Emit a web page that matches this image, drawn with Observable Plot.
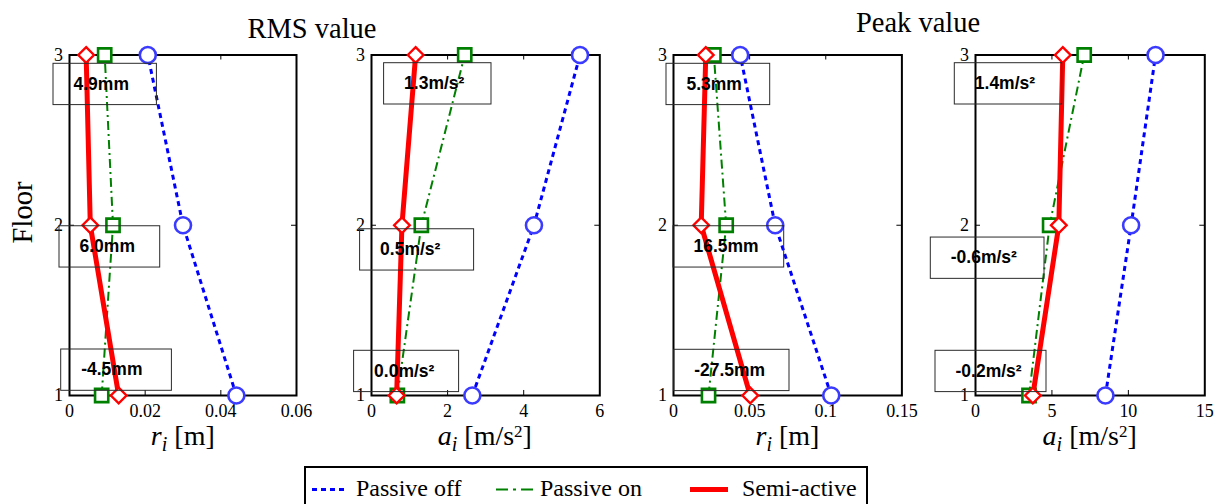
<!DOCTYPE html>
<html><head><meta charset="utf-8">
<script src="https://cdn.jsdelivr.net/npm/d3@7"></script>
<script src="https://cdn.jsdelivr.net/npm/@observablehq/plot@0.6"></script>
<style>
body{margin:0;background:#fff;}
#chart{position:relative;width:1215px;height:504px;overflow:hidden;background:#fff;}
.pwrap{position:absolute;top:0;}
.pwrap svg{max-width:none !important;}
#overlay{position:absolute;left:0;top:0;pointer-events:none;}
</style></head><body><div id="chart"></div>
<script>
// ---------------- data ----------------
const floors = [1, 2, 3];
const seriesNames = ["Passive off", "Passive on", "Semi-active"];

// RMS values (floors 1, 2, 3)
const rmsDispOff  = [0.0441, 0.0300, 0.0207];
const rmsDispOn   = [0.0085, 0.0115, 0.0093];
const rmsDispSemi = [0.0130, 0.0055, 0.0044];
const rmsAccOff   = [2.65, 4.27, 5.48];
const rmsAccOn    = [0.68, 1.31, 2.45];
const rmsAccSemi  = [0.66, 0.80, 1.16];
// Peak values (floors 1, 2, 3)
const peakDispOff  = [0.1036, 0.0668, 0.0438];
const peakDispOn   = [0.0230, 0.0346, 0.0265];
const peakDispSemi = [0.0504, 0.0182, 0.0212];
const peakAccOff   = [8.50, 10.18, 11.78];
const peakAccOn    = [3.50, 4.85, 7.11];
const peakAccSemi  = [3.75, 5.45, 5.71];

// annotation texts (floors 1, 2, 3)
const rmsDispNotes  = ["-4.5mm", "6.0mm", "4.9mm"];
const rmsAccNotes   = ["0.0m/s²", "0.5m/s²", "1.3m/s²"];
const peakDispNotes = ["-27.5mm", "16.5mm", "5.3mm"];
const peakAccNotes  = ["-0.2m/s²", "-0.6m/s²", "1.4m/s²"];

// ticks
const rmsDispTicks  = [0, 0.02, 0.04, 0.06];
const rmsDispTickLabels = ["0", "0.02", "0.04", "0.06"];
const rmsAccTicks   = [0, 2, 4, 6];
const rmsAccTickLabels = ["0", "2", "4", "6"];
const peakDispTicks = [0, 0.05, 0.1, 0.15];
const peakDispTickLabels = ["0", "0.05", "0.1", "0.15"];
const peakAccTicks  = [0, 5, 10, 15];
const peakAccTickLabels = ["0", "5", "10", "15"];
const floorTickLabels = ["1", "2", "3"];

const groupTitles = ["RMS value", "Peak value"];

// ---------------- styling / layout ----------------
const squareSym = {draw(ctx, size){ const h = Math.sqrt(size/Math.PI);
  ctx.moveTo(-h,-h); ctx.lineTo(h,-h); ctx.lineTo(h,h); ctx.lineTo(-h,h); ctx.closePath(); }};
const diamondSym = {draw(ctx, size){ const h = Math.sqrt(size/Math.PI);
  ctx.moveTo(0,-h); ctx.lineTo(h,0); ctx.lineTo(0,h); ctx.lineTo(-h,0); ctx.closePath(); }};

const seriesStyle = [
  {color:"#0000ff", mark:"#3b3bff", width:3, dash:"5,4", symbol:"circle", r:8, sw:2.6},
  {color:"#008000", mark:"#008000", width:2, dash:"9,4,2,4", symbol:squareSym, r:6.6, sw:2.6},
  {color:"#ff0000", mark:"#ff0000", width:5, dash:null, symbol:diamondSym, r:7.8, sw:2.4}
];

const frameTop = 54.5, frameBottom = 395;
const panelLayout = [
  {left: 69.3, right: 296.3},
  {left: 370.7, right: 599},
  {left: 673.3, right: 901.7},
  {left: 975, right: 1204.3}
];
// annotation boxes: px offsets from frame left (dx) and from the floor line (dy), width w
const boxLayout = [
  [{dx:-8.3, w:110.7, dy:-46},  {dx:-10,  w:100.7, dy:1},    {dx:-16,  w:103.4, dy:8.8}],
  [{dx:-17.4,w:105,   dy:-44.7},{dx:-11.4,w:114,   dy:4},    {dx:12.6, w:107.4, dy:8.2}],
  [{dx:0.7,  w:115.3, dy:-45.7},{dx:0,    w:110.7, dy:1},    {dx:-7,   w:103.7, dy:8.8}],
  [{dx:-40,  w:111,   dy:-44.7},{dx:-44.7,w:113.7, dy:12.3}, {dx:-20.7,w:107.4, dy:8.2}]
];
const boxH = 41.3, textInset = 20;

const panels = [
  {domain:[0,0.06], ticks:rmsDispTicks,  labels:rmsDispTickLabels,  series:[rmsDispOff, rmsDispOn, rmsDispSemi],   notes:rmsDispNotes},
  {domain:[0,6],    ticks:rmsAccTicks,   labels:rmsAccTickLabels,   series:[rmsAccOff, rmsAccOn, rmsAccSemi],      notes:rmsAccNotes},
  {domain:[0,0.15], ticks:peakDispTicks, labels:peakDispTickLabels, series:[peakDispOff, peakDispOn, peakDispSemi], notes:peakDispNotes},
  {domain:[0,15],   ticks:peakAccTicks,  labels:peakAccTickLabels,  series:[peakAccOff, peakAccOn, peakAccSemi],   notes:peakAccNotes}
];

const chart = document.getElementById("chart");
const mL = 60, mR = 24, H = 430;

panels.forEach((cfg, i) => {
  const {left, right} = panelLayout[i];
  const fw = right - left, fh = frameBottom - frameTop;
  const pxPerFloor = fh / 2;
  const xd = px => cfg.domain[0] + px / fw * (cfg.domain[1] - cfg.domain[0]);
  const inner = cfg.ticks.slice(1, -1);
  const marks = [
    Plot.frame({stroke:"black", strokeWidth:2}),
    Plot.ruleX(inner, {x:d=>d, insetTop: fh - 5, stroke:"black", strokeWidth:1}),
    Plot.ruleX(inner, {x:d=>d, insetBottom: fh - 5, stroke:"black", strokeWidth:1}),
    Plot.ruleY([floors[1]], {y:d=>d, insetRight: fw - 5, stroke:"black", strokeWidth:1}),
    Plot.ruleY([floors[1]], {y:d=>d, insetLeft: fw - 5, stroke:"black", strokeWidth:1}),
    Plot.axisX({ticks: cfg.ticks, tickSize:0, tickPadding:9, label:null,
      tickFormat: d => cfg.labels[cfg.ticks.indexOf(d)]}),
    Plot.axisY({ticks: floors, tickSize:0, tickPadding:6.5, label:null,
      tickFormat: d => floorTickLabels[floors.indexOf(d)]})
  ];
  cfg.series.forEach((vals, s) => {
    const st = seriesStyle[s];
    const data = floors.map((f, k) => ({floor:f, v:vals[k], name:seriesNames[s]}));
    marks.push(Plot.line(data, {x:"v", y:"floor", stroke:st.color, strokeWidth:st.width,
      strokeDasharray: st.dash || undefined, strokeLinecap:"butt"}));
    marks.push(Plot.dot(data, {x:"v", y:"floor", symbol:st.symbol, r:st.r, fill:"white",
      stroke:st.mark, strokeWidth:st.sw}));
  });
  const boxes = floors.map((f, k) => {
    const b = boxLayout[i][k];
    return {
      x1: xd(b.dx), x2: xd(b.dx + b.w),
      y1: f - b.dy / pxPerFloor, y2: f - (b.dy + boxH) / pxPerFloor,
      tx: xd(b.dx + textInset), ty: f - (b.dy + boxH/2 - 0.5) / pxPerFloor,
      text: cfg.notes[k]
    };
  });
  marks.push(Plot.rect(boxes, {x1:"x1", x2:"x2", y1:"y1", y2:"y2", fill:"none", stroke:"#2a2a2a", strokeWidth:1}));
  marks.push(Plot.text(boxes, {x:"tx", y:"ty", text:"text", textAnchor:"start", fill:"black",
    fontFamily:"Liberation Sans", fontWeight:"bold", fontSize:17.5}));

  const W = mL + fw + mR;
  const svg = Plot.plot({
    width: W, height: H,
    marginLeft: mL, marginRight: mR, marginTop: frameTop, marginBottom: H - frameBottom,
    x: {domain: cfg.domain}, y: {domain: [1, 3]},
    style: {fontFamily: "Liberation Serif", fontSize: "18px", background: "transparent", overflow: "visible", color:"black", maxWidth:"none"},
    marks
  });
  svg.setAttribute("width", W);
  svg.setAttribute("height", H);
  svg.style.width = W + "px";
  svg.style.height = H + "px";
  const wrap = document.createElement("div");
  wrap.className = "pwrap";
  wrap.style.left = (left - mL) + "px";
  wrap.style.width = W + "px";
  wrap.style.height = H + "px";
  wrap.appendChild(svg);
  chart.appendChild(wrap);
});

// ---------------- overlay: titles, axis labels, legend ----------------
const ov = d3.select("#chart").append("svg").attr("id", "overlay")
  .attr("width", 1215).attr("height", 504);
const serif = "Liberation Serif";

ov.append("text").attr("x", 312).attr("y", 38.3).attr("text-anchor", "middle")
  .attr("font-family", serif).attr("font-size", 28.5).text(groupTitles[0]);
ov.append("text").attr("x", 918).attr("y", 31.7).attr("text-anchor", "middle")
  .attr("font-family", serif).attr("font-size", 28.5).text(groupTitles[1]);

ov.append("text").attr("transform", "translate(31.7,212.5) rotate(-90)").attr("text-anchor", "middle")
  .attr("font-family", serif).attr("font-size", 28.5).text("Floor");

const xLabelKinds = ["r", "a", "r", "a"];
panelLayout.forEach((p, i) => {
  const t = ov.append("text").attr("x", (p.left + p.right) / 2).attr("y", 445)
    .attr("text-anchor", "middle").attr("font-family", serif).attr("font-size", 28);
  t.append("tspan").attr("font-style", "italic").text(xLabelKinds[i]);
  t.append("tspan").attr("font-style", "italic").attr("font-size", 20).attr("dy", 6).text("i");
  if (xLabelKinds[i] === "r") {
    t.append("tspan").attr("dy", -6).text("\u00a0[m]");
  } else {
    t.append("tspan").attr("dy", -6).text("\u00a0[m/s");
    t.append("tspan").attr("font-size", 17).attr("dy", -8).text("2");
    t.append("tspan").attr("dy", 8).text("]");
  }
});

// legend
ov.append("rect").attr("x", 305).attr("y", 467).attr("width", 562).attr("height", 50)
  .attr("fill", "white").attr("stroke", "black").attr("stroke-width", 2);
const legendLayout = [
  {x1:312, x2:347, tx:356},
  {x1:496, x2:534, tx:540},
  {x1:690, x2:728, tx:742}
];
seriesNames.forEach((name, s) => {
  const st = seriesStyle[s], L = legendLayout[s];
  ov.append("line").attr("x1", L.x1).attr("x2", L.x2).attr("y1", 489.5).attr("y2", 489.5)
    .attr("stroke", st.color).attr("stroke-width", st.width)
    .attr("stroke-dasharray", s === 1 ? "12,5,3,5" : st.dash);
  ov.append("text").attr("x", L.tx).attr("y", 495.5).attr("font-family", serif)
    .attr("font-size", 24).text(name);
});
</script></body></html>
